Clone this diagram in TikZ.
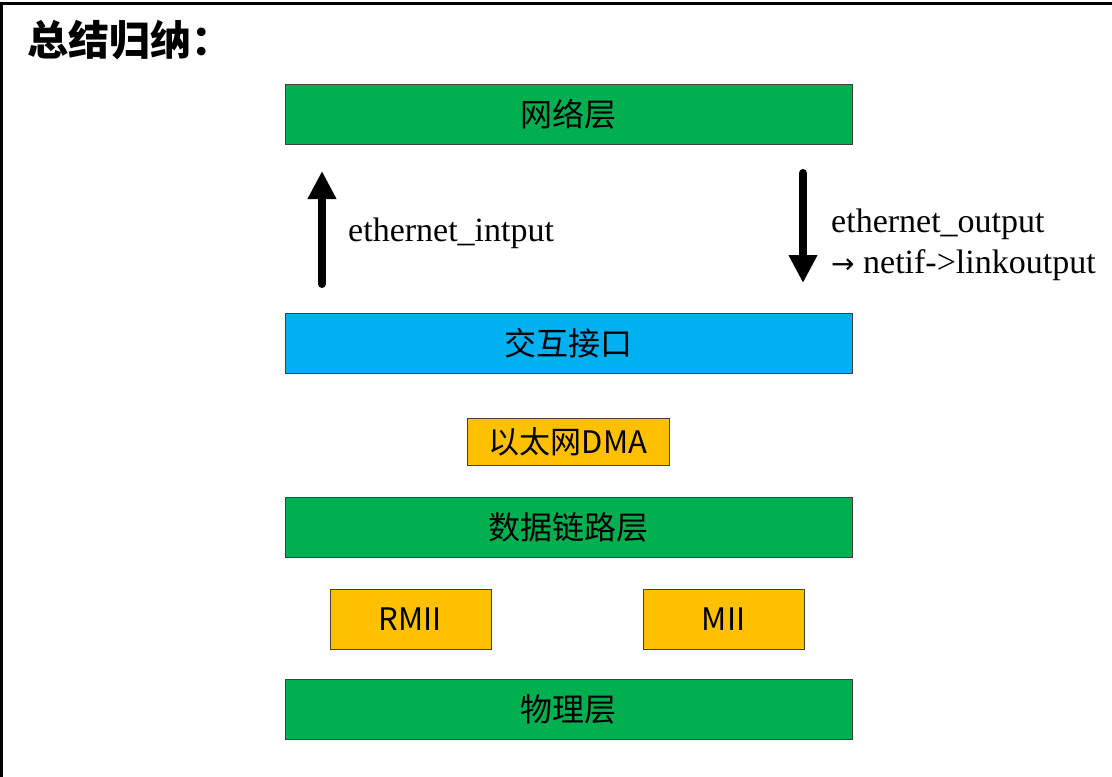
\documentclass[tikz,border=0pt]{standalone}
\usepackage{fontspec}
\setmainfont{Liberation Serif}
\newfontfamily\cjk{Noto Sans CJK SC}
\newfontfamily\dejavu{DejaVu Sans}
\usetikzlibrary{arrows.meta}
\definecolor{lgreen}{HTML}{00B050}
\definecolor{lblue}{HTML}{00B0F0}
\definecolor{lorange}{HTML}{FFC000}
\tikzset{
  layerbox/.style={draw=black!75, line width=0.9pt, fill=#1, inner sep=0pt,
    minimum width=567pt, minimum height=60pt,
    font=\cjk\fontsize{32}{36}\selectfont},
  smallbox/.style={draw=black!75, line width=0.9pt, fill=lorange, inner sep=0pt,
    minimum width=161pt, minimum height=60pt,
    font=\cjk\fontsize{31}{36}\selectfont},
  bigarrow/.style={line width=8pt, line cap=round,
    -{Triangle[width=27pt,length=28pt]}},
  lbl/.style={anchor=west, inner sep=0pt, font=\fontsize{34}{41}\selectfont, align=left}
}
\begin{document}
\begin{tikzpicture}[x=1pt,y=-1pt]
\useasboundingbox (0,0) rectangle (1112,777);
\fill[white] (0,0) rectangle (1112,777);
\draw[line width=3pt] (1112,3) -- (1.5,3) -- (1.5,777);
\node[anchor=west, inner sep=0pt, font=\cjk\bfseries\fontsize{41}{44}\selectfont] (title) at (27,40) {总结归纳：};

\node[layerbox=lgreen] (net) at (568.5,114) {网络层};
\node[layerbox=lblue] (iface) at (568.5,343) {交互接口};
\node[smallbox, minimum width=202pt, minimum height=47pt] (dma) at (568,441.5) {以太网DMA};
\node[layerbox=lgreen] (dll) at (568.5,527) {数据链路层};
\node[smallbox] (rmii) at (410.5,619) {RMII};
\node[smallbox] (mii) at (723.5,619) {MII};
\node[layerbox=lgreen] (phy) at (568.5,709) {物理层};

\coordinate (upS) at (322,284);
\coordinate (upE) at (322,171);
\coordinate (dnS) at (803,173);
\coordinate (dnE) at (803,283);
\draw[bigarrow] (upS) -- (upE);
\draw[bigarrow] (dnS) -- (dnE);

\node[lbl] (inlbl) at (348,233) {ethernet\_intput};
\node[lbl] (outlbl) at (831,245) {ethernet\_output\\{\dejavu\fontsize{28}{41}\selectfont →} netif->linkoutput};
\end{tikzpicture}
\end{document}
